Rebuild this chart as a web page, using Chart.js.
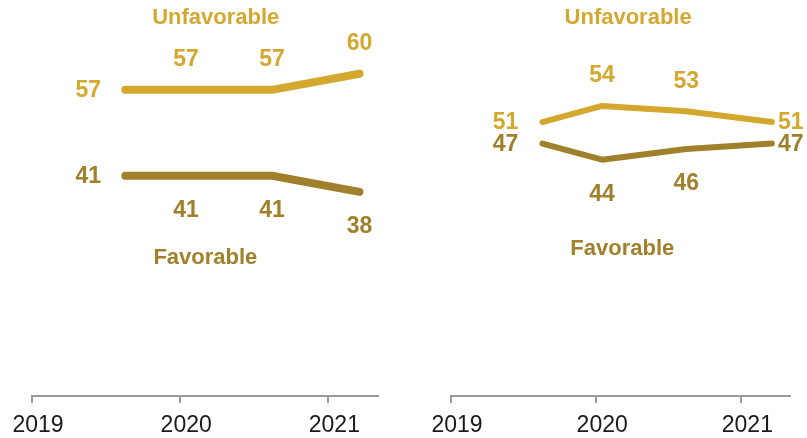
<!DOCTYPE html>
<html>
<head>
<meta charset="utf-8">
<script src="https://cdn.jsdelivr.net/npm/chart.js@4/dist/chart.umd.min.js"></script>
<style>
  html, body { margin: 0; padding: 0; background: #fff; width: 807px; height: 438px; overflow: hidden; }
  .wrap { position: absolute; top: 0; height: 438px; }
  #w1 { left: 0; width: 403px; }
  #w2 { left: 403px; width: 404px; }
</style>
</head>
<body>
<div class="wrap" id="w1"><canvas id="c1"></canvas></div>
<div class="wrap" id="w2"><canvas id="c2"></canvas></div>
<script>
// ---- data ----
const surveyDates = [2019.63, 2020.04, 2020.62, 2021.21];
const tickYears = [2019, 2020, 2021];
const leftUnfavorable = [57, 57, 57, 60];
const leftFavorable = [41, 41, 41, 38];
const rightUnfavorable = [51, 54, 53, 51];
const rightFavorable = [47, 44, 46, 47];
const seriesNames = ['Unfavorable', 'Favorable'];

// ---- styles ----
const UNF_COLOR = '#D4A82F';
const FAV_COLOR = '#A0802A';
const FONT = '"Liberation Sans", Arial, sans-serif';

function pts(xs, ys) { return xs.map((x, i) => ({ x: x, y: ys[i] })); }

const labelPlugin = {
  id: 'labelPlugin',
  afterDatasetsDraw(chart) {
    const opts = chart.options.plugins.labelPlugin;
    const ctx = chart.ctx;
    const xs = chart.scales.x, ys = chart.scales.y;
    ctx.save();
    ctx.textBaseline = 'middle';
    chart.data.datasets.forEach((ds, di) => {
      const place = opts.placement[di];
      ctx.font = 'bold 23px ' + FONT;
      ds.data.forEach((p, i) => {
        const px = xs.getPixelForValue(p.x), py = ys.getPixelForValue(p.y);
        let x = px, y = py;
        const where = place[i];
        if (where === 'left') { x = px - 37; }
        else if (where === 'right') { x = px + 19; }
        else if (where === 'above') { y = py - 31; }
        else if (where === 'below') { y = py + 34; }
        ctx.fillStyle = ds.borderColor;
        ctx.textAlign = 'center';
        ctx.fillText(String(p.y), x, y + 1);
      });
      const nm = opts.names[di];
      ctx.font = 'bold 22px ' + FONT;
      ctx.fillStyle = ds.borderColor;
      ctx.textAlign = 'center';
      ctx.fillText(ds.label, xs.getPixelForValue(nm.x), ys.getPixelForValue(nm.y) + 1);
    });
    ctx.restore();
  }
};

function makeChart(id, unf, fav, lineW, padL, padR, placement, names) {
  return new Chart(document.getElementById(id), {
    type: 'line',
    data: {
      datasets: [
        { label: seriesNames[0], data: pts(surveyDates, unf), borderColor: UNF_COLOR, borderWidth: lineW,
          pointRadius: 0, tension: 0, borderCapStyle: 'round', borderJoinStyle: 'round', clip: false },
        { label: seriesNames[1], data: pts(surveyDates, fav), borderColor: FAV_COLOR, borderWidth: lineW,
          pointRadius: 0, tension: 0, borderCapStyle: 'round', borderJoinStyle: 'round', clip: false }
      ]
    },
    options: {
      responsive: true,
      maintainAspectRatio: false,
      animation: false,
      events: [],
      layout: { padding: { left: padL, right: padR, top: 20, bottom: 0 } },
      plugins: {
        legend: { display: false },
        tooltip: { enabled: false },
        labelPlugin: { placement: placement, names: names }
      },
      scales: {
        x: {
          type: 'linear',
          min: 2019,
          max: 2021.335,
          afterBuildTicks(scale) { scale.ticks = tickYears.map(v => ({ value: v })); },
          afterFit(scale) { scale.height = 42; scale.paddingLeft = 0; scale.paddingRight = 0; },
          ticks: {
            color: '#1a1a1a',
            font: { family: FONT, size: 23 },
            padding: 9,
            labelOffset: 6,
            autoSkip: false,
            maxRotation: 0,
            callback: v => String(v)
          },
          grid: { display: true, drawOnChartArea: false, drawTicks: true, tickLength: 7, color: '#9a9a9a', lineWidth: 2 },
          border: { display: true, color: '#9a9a9a', width: 2 }
        },
        y: { display: false, min: 0, max: 70 }
      }
    },
    plugins: [labelPlugin]
  });
}

makeChart('c1', leftUnfavorable, leftFavorable, 8, 32, 25,
  [['left', 'above', 'above', 'above'], ['left', 'below', 'below', 'below']],
  [{ x: 2020.24, y: 70.56 }, { x: 2020.17, y: 25.9 }]);

makeChart('c2', rightUnfavorable, rightFavorable, 6, 48, 17,
  [['left', 'above', 'above', 'right'], ['left', 'below', 'below', 'right']],
  [{ x: 2020.22, y: 70.56 }, { x: 2020.18, y: 27.6 }]);
</script>
</body>
</html>
